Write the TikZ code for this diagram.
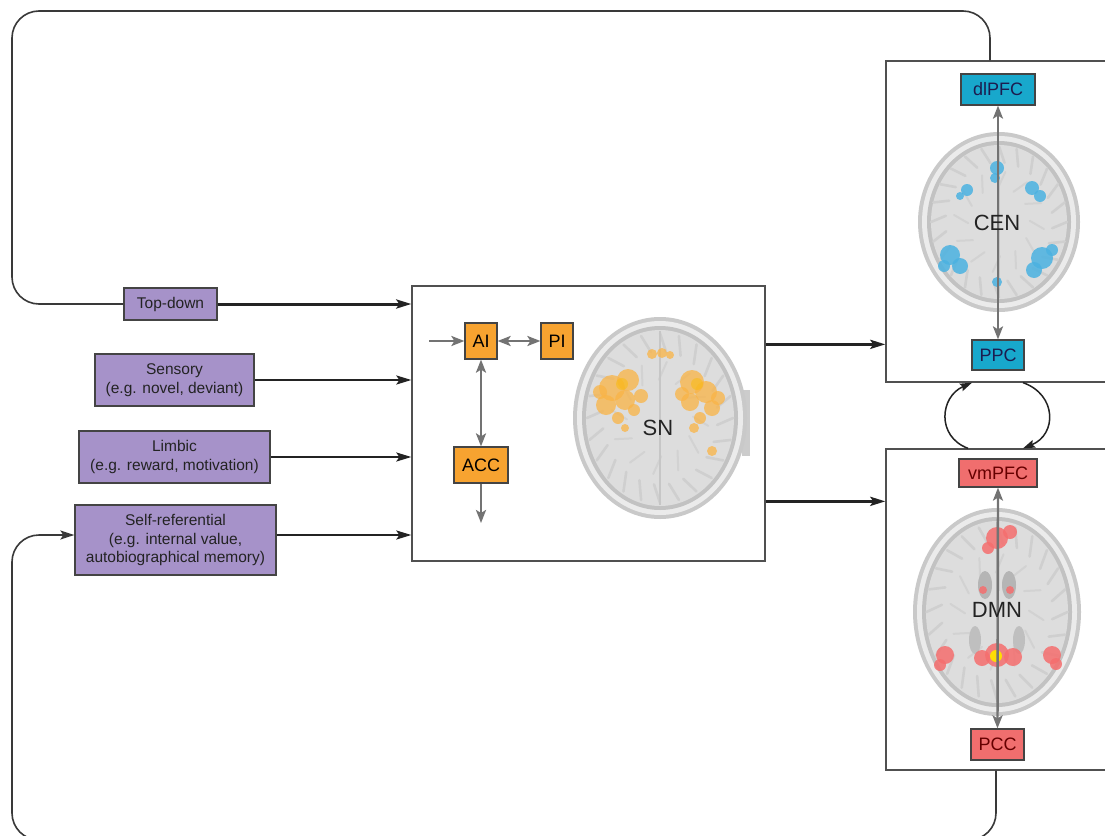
\documentclass[tikz,border=0pt]{standalone}
\usepackage{fontspec}
\setmainfont{Liberation Sans}
\usetikzlibrary{arrows.meta,calc}
\definecolor{purp}{RGB}{166,146,201}
\definecolor{orng}{RGB}{247,163,48}
\definecolor{cyanb}{RGB}{24,168,204}
\definecolor{redb}{RGB}{240,110,110}
\definecolor{ink}{RGB}{35,35,35}
\definecolor{arrgray}{RGB}{115,115,115}
\definecolor{boxline}{RGB}{80,80,80}
\definecolor{blobor}{RGB}{250,180,70}
\definecolor{blobcy}{RGB}{75,178,225}
\definecolor{blobrd}{RGB}{245,110,110}
\tikzset{
 inbox/.style={draw=ink!85, line width=1.3pt, fill=purp, align=center, text=ink,
   font=\fontsize{15.5}{18.5}\selectfont, inner sep=0pt},
 panel/.style={draw=boxline, line width=1.3pt, fill=white, inner sep=0pt},
 region/.style={draw=ink!85, line width=1.2pt, inner sep=0pt, font=\fontsize{18}{20}\selectfont},
 feed/.style={draw=ink, line width=2.2pt, -{Stealth[length=15pt,width=9pt,inset=3pt]}},
 thickfeed/.style={feed, line width=3pt},
 loopline/.style={draw=ink!90, line width=1.6pt, rounded corners=27pt},
 inarrow/.style={draw=arrgray, line width=2.4pt, {Stealth[length=13pt,width=10pt,inset=3pt]}-{Stealth[length=13pt,width=10pt,inset=3pt]}},
 inarrowone/.style={draw=arrgray, line width=2.4pt, -{Stealth[length=13pt,width=10pt,inset=3pt]}},
 swap/.style={draw=ink, line width=1.5pt, -{Stealth[length=12pt,width=8pt,inset=2pt]}},
 brainlbl/.style={font=\fontsize{22}{24}\selectfont, text=ink, inner sep=0pt},
}
\newcommand\brainpic[4]{%
  \fill[gray!42] (#1,#2) ellipse [x radius=#3pt, y radius=#4pt];
  \fill[gray!16] (#1,#2) ellipse [x radius=#3pt-4pt, y radius=#4pt-4pt];
  \fill[gray!48] (#1,#2) ellipse [x radius=#3pt-9pt, y radius=#4pt-9pt];
  \fill[gray!27] (#1,#2) ellipse [x radius=#3pt-13pt, y radius=#4pt-13pt];
  \foreach \a in {0,15,...,345}
    \draw[gray!38, line width=2.6pt, line cap=round]
      ($(#1,#2)+({0.84*(#3)*cos(\a)},{0.84*(#4)*sin(\a)})$) --
      ($(#1,#2)+({0.66*(#3)*cos(\a+6)},{0.66*(#4)*sin(\a+6)})$);
  \foreach \a in {8,38,...,338}
    \draw[gray!35, line width=2pt, line cap=round]
      ($(#1,#2)+({0.56*(#3)*cos(\a)},{0.56*(#4)*sin(\a)})$) --
      ($(#1,#2)+({0.38*(#3)*cos(\a-10)},{0.38*(#4)*sin(\a-10)})$);
  \draw[gray!45, line width=2pt] ($(#1,#2)+(0,-#4+14)$) -- ($(#1,#2)+(0,#4-14)$);
}
\begin{document}
\begin{tikzpicture}[x=1pt,y=-1pt]
\useasboundingbox (0,0) rectangle (1105,835);
\fill[white] (0,0) rectangle (1105,835);

% panels
\node[panel, minimum width=353pt, minimum height=275pt] (sn) at (588.5,423.5) {};
\node[panel, minimum width=224pt, minimum height=321pt] (cen) at (998,221.5) {};
\node[panel, minimum width=224pt, minimum height=321pt] (dmn) at (998,609.5) {};

% SN brain
\fill[gray!40] (742,390) rectangle (750,456);
\brainpic{660}{418}{87}{101}
\begin{scope}[blobor, opacity=0.75]
  \fill (612,388) circle (13pt); \fill (628,380) circle (11pt); \fill (606,405) circle (10pt);
  \fill (625,400) circle (10pt); \fill (641,396) circle (7pt); \fill (618,418) circle (6pt);
  \fill (600,392) circle (7pt); \fill (634,410) circle (6pt);
  \fill (692,382) circle (12pt); \fill (706,392) circle (11pt); \fill (690,402) circle (9pt);
  \fill (712,408) circle (8pt); \fill (682,394) circle (7pt); \fill (700,418) circle (6pt);
  \fill (718,398) circle (7pt); \fill (694,428) circle (5pt);
  \fill (652,354) circle (5pt); \fill (662,353) circle (5pt); \fill (670,355) circle (4pt);
  \fill (712,451) circle (5pt);
  \fill (625,428) circle (4pt);
\end{scope}
\fill[yellow!50!orange, opacity=0.5] (622,384) circle (6pt);
\fill[yellow!50!orange, opacity=0.5] (697,384) circle (6pt);
\node[brainlbl] (snlbl) at (658,428) {SN};

% CEN brain
\brainpic{999}{222}{81}{90}
\begin{scope}[blobcy, opacity=0.85]
  \fill (997,168) circle (7pt); \fill (995,178) circle (5pt);
  \fill (967,190) circle (6pt); \fill (960,196) circle (4pt);
  \fill (1032,188) circle (7pt); \fill (1040,196) circle (6pt);
  \fill (950,255) circle (10pt); \fill (960,266) circle (8pt); \fill (944,266) circle (6pt);
  \fill (1042,258) circle (11pt); \fill (1034,270) circle (8pt); \fill (1052,250) circle (6pt);
  \fill (997,282) circle (5pt);
\end{scope}

% DMN brain
\brainpic{997}{612}{84}{104}
\fill[gray!58] (985,585) ellipse [x radius=7pt, y radius=14pt];
\fill[gray!58] (1009,585) ellipse [x radius=7pt, y radius=14pt];
\fill[gray!50] (975,640) ellipse [x radius=6pt, y radius=14pt];
\fill[gray!50] (1019,640) ellipse [x radius=6pt, y radius=14pt];
\begin{scope}[blobrd, opacity=0.85]
  \fill (997,538) circle (11pt); \fill (1010,532) circle (7pt); \fill (988,548) circle (6pt);
  \fill (983,590) circle (4pt); \fill (1010,590) circle (4pt);
  \fill (997,655) circle (12pt); \fill (982,658) circle (8pt); \fill (1013,657) circle (9pt);
  \fill (945,655) circle (9pt); \fill (940,665) circle (6pt);
  \fill (1052,655) circle (9pt); \fill (1056,664) circle (6pt);
\end{scope}
\fill[yellow!80!orange] (996,656) circle (6pt);

% SN internal nodes
\node[region, fill=orng, minimum width=32pt, minimum height=36pt] (ai) at (481,341) {AI};
\node[region, fill=orng, minimum width=32pt, minimum height=36pt] (pi) at (557,341) {PI};
\node[region, fill=orng, minimum width=54pt, minimum height=36pt] (acc) at (481,465) {ACC};
\coordinate (aiin) at (429,341);
\coordinate (accout) at (481,523);
\draw[inarrowone] (aiin) -- (ai.west);
\draw[inarrow] (ai.east) -- (pi.west);
\draw[inarrow] (ai.south) -- (acc.north);
\draw[inarrowone] (acc.south) -- (accout);

% CEN internal nodes
\node[region, fill=cyanb, text=ink!80!blue, minimum width=74pt, minimum height=31pt] (dlpfc) at (998,89.5) {dlPFC};
\node[region, fill=cyanb, text=ink!80!blue, minimum width=52pt, minimum height=30pt] (ppc) at (998,355) {PPC};
\draw[inarrow] (dlpfc.south) -- (ppc.north);
\node[brainlbl] (cenlbl) at (997,223) {CEN};

% DMN internal nodes
\node[region, fill=redb, text=red!40!black, minimum width=78pt, minimum height=28pt] (vmpfc) at (998,473) {vmPFC};
\node[region, fill=redb, text=red!40!black, minimum width=53pt, minimum height=31pt] (pcc) at (997.5,744.5) {PCC};
\draw[inarrow] (vmpfc.south) -- (pcc.north);
\node[brainlbl] (dmnlbl) at (997,610) {DMN};

% inputs
\node[inbox, minimum width=93pt, minimum height=32pt] (td) at (170.5,304) {Top-down};
\node[inbox, minimum width=159pt, minimum height=52pt] (sens) at (174.5,380) {Sensory\\(e.g. novel, deviant)};
\node[inbox, minimum width=191pt, minimum height=52pt] (limb) at (174.5,457) {Limbic\\(e.g. reward, motivation)};
\node[inbox, minimum width=201pt, minimum height=70pt] (self) at (175.5,540) {Self-referential\\ (e.g. internal value,\\autobiographical memory)};

\draw[thickfeed] (td.east) -- (td.east -| sn.west);
\draw[feed] (sens.east) -- (sens.east -| sn.west);
\draw[feed] (limb.east) -- (limb.east -| sn.west);
\draw[feed] ([yshift=5pt]self.east) -- ([yshift=5pt]self.east -| sn.west);

% SN outputs
\coordinate (o1) at ($(sn.north east)+(0,59)$);
\coordinate (o2) at ($(sn.north east)+(0,216)$);
\draw[thickfeed] (o1) -- (o1 -| cen.west);
\draw[thickfeed] (o2) -- (o2 -| dmn.west);

% loops
\draw[loopline] (td.west) -| (12,11) -| ([xshift=-8pt]cen.north);
\draw[loopline, -{Stealth[length=14pt,width=9pt,inset=3pt]}] ([xshift=-2pt]dmn.south) |- (12,840) |- ([yshift=5pt]self.west);

% CEN <-> DMN exchange
\coordinate (c1) at ($(cen.south)+(25,0)$);
\coordinate (c2) at ($(dmn.north)+(25,0)$);
\coordinate (c3) at ($(dmn.north)+(-30,0)$);
\coordinate (c4) at ($(cen.south)+(-26,0)$);
\draw[swap] (c1) .. controls ($(c1)+(34,12)$) and ($(c2)+(34,-14)$) .. (c2);
\draw[swap] (c3) .. controls ($(c3)+(-32,-12)$) and ($(c4)+(-32,14)$) .. (c4);
\end{tikzpicture}
\end{document}
